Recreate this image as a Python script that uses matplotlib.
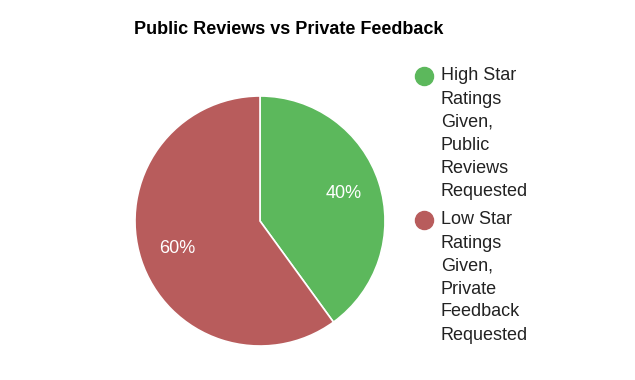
import matplotlib.pyplot as plt
from matplotlib.lines import Line2D

plt.rcParams['font.family'] = ['Liberation Sans', 'DejaVu Sans']

# data
labels = ["High Star Ratings Given, Public Reviews Requested",
          "Low Star Ratings Given, Private Feedback Requested"]
legend_lines = [["High Star", "Ratings", "Given,", "Public", "Reviews", "Requested"],
                ["Low Star", "Ratings", "Given,", "Private", "Feedback", "Requested"]]
shares = [40, 60]
colors = ["#5cb85c", "#b85c5c"]

W, H = 635, 380
fig = plt.figure(figsize=(W / 100, H / 100), dpi=100)

# pie centre (260, 221) px from top-left, radius 125 px
cx, cy, r = 260, 221, 125
ax = fig.add_axes([(cx - r) / W, (H - cy - r) / H, 2 * r / W, 2 * r / H])
ax.pie(shares, colors=colors, startangle=90, counterclock=False,
       autopct='%d%%', pctdistance=0.7,
       wedgeprops=dict(edgecolor='white', linewidth=1.2),
       textprops=dict(color='white', fontsize=13))
ax.set_xlim(-1, 1)
ax.set_ylim(-1, 1)
ax.set_aspect('equal')

fig.text(289 / W, 1 - 30 / H, "Public Reviews vs Private Feedback",
         ha='center', va='center', fontsize=13, fontweight='bold')

# legend, drawn by hand so the marker sits on the first line
line_h = 23
starts = [76, 220]
for lines, col, y0 in zip(legend_lines, colors, starts):
    fig.add_artist(Line2D([424 / W], [1 - y0 / H], marker='o', markersize=13,
                          color=col, linestyle='none', transform=fig.transFigure))
    for i, t in enumerate(lines):
        fig.text(441 / W, 1 - (y0 + i * line_h) / H, t,
                 ha='left', va='center', fontsize=13, color='#222222')

fig.savefig("out.png", dpi=100)
